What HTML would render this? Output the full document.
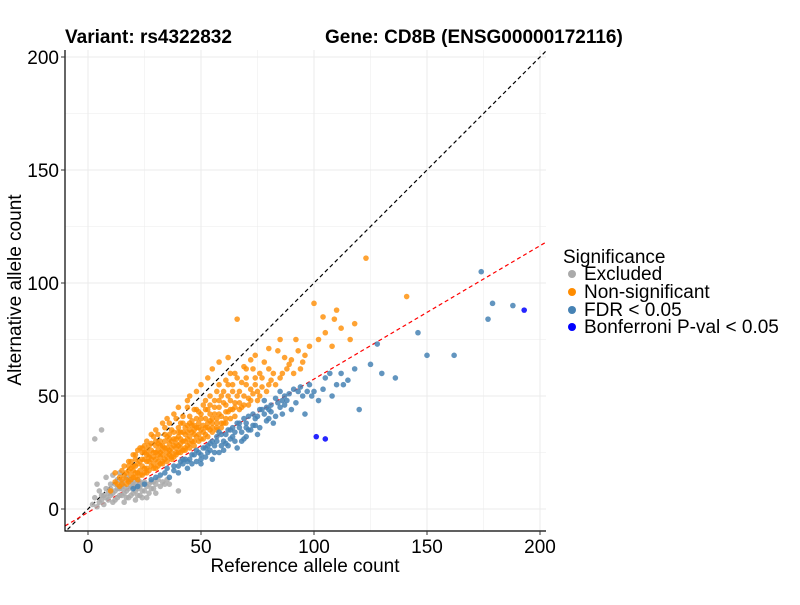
<!DOCTYPE html>
<html><head><meta charset="utf-8"><style>
body{margin:0;background:#fff;font-family:"Liberation Sans",sans-serif}
svg text{font-family:"Liberation Sans",sans-serif}
</style></head><body>
<svg id="chart" width="800" height="600" viewBox="0 0 800 600">
<rect width="800" height="600" fill="#fff"/>
<defs><clipPath id="pc"><rect x="65" y="50" width="481" height="481"/></clipPath></defs>
<g id="grid"></g>
<g id="lines" clip-path="url(#pc)"></g>
<g id="pts"></g>
<g id="axes"></g>
<text x="65" y="43" font-size="19" font-weight="bold">Variant: rs4322832</text>
<text x="325" y="43" font-size="19" font-weight="bold">Gene: CD8B (ENSG00000172116)</text>
<text x="305" y="572" font-size="19" text-anchor="middle">Reference allele count</text>
<text transform="translate(21,290) rotate(-90)" font-size="19" text-anchor="middle">Alternative allele count</text>
<g>
<text x="563" y="263" font-size="19">Significance</text>
<circle cx="572" cy="274" r="4" fill="#aaaaaa"/><text x="584" y="280" font-size="19">Excluded</text>
<circle cx="572" cy="292" r="4" fill="#ff8c00"/><text x="584" y="298" font-size="19">Non-significant</text>
<circle cx="572" cy="310" r="4" fill="#4682b4"/><text x="584" y="316" font-size="19">FDR &lt; 0.05</text>
<circle cx="572" cy="327" r="4" fill="#0000ff"/><text x="584" y="333" font-size="19">Bonferroni P-val &lt; 0.05</text>
</g>
</svg>
<script>
const xTicks=[0,50,100,150,200];
const yTicks=[0,50,100,150,200];
const excluded=[[2,2],[3,5],[4,1],[5,3],[5,8],[6,4],[7,2],[7,6],[8,9],[9,4],[10,6],[10,11],[11,3],[12,8],[13,5],[14,9],[15,6],[15,12],[16,3],[17,8],[18,5],[19,10],[20,7],[21,4],[22,9],[23,6],[24,11],[25,8],[26,5],[28,9],[30,7],[32,10],[6,35],[3,31],[8,14],[4,11],[11,15],[14,16],[18,13],[20,12],[25,12],[22,13],[9,7],[12,11],[16,10],[19,6],[23,10],[27,11],[29,12],[31,13],[17,14],[13,13],[6,6],[10,9],[21,8],[24,5],[27,7],[33,12],[35,13],[40,8],[36,11],[11,7],[13,9],[15,9],[17,5],[19,12],[21,11],[23,12],[26,10],[28,12],[30,11],[34,11],[8,5],[12,4],[14,6],[16,7],[18,9],[20,10],[22,6],[24,8],[29,9]];
const nonsig=[[12,12],[14,10],[15,13],[16,15],[18,12],[18,17],[20,14],[20,19],[21,16],[22,13],[22,20],[24,15],[24,22],[25,18],[25,25],[26,16],[27,21],[28,19],[28,26],[29,23],[30,18],[30,28],[31,21],[32,25],[32,30],[33,20],[34,27],[35,23],[35,32],[36,26],[37,22],[37,30],[38,34],[39,25],[40,28],[40,36],[41,31],[42,26],[42,38],[43,33],[44,28],[45,35],[45,41],[46,30],[47,37],[48,32],[48,44],[50,35],[50,40],[51,46],[52,33],[53,38],[54,42],[55,36],[56,48],[57,40],[58,45],[60,38],[60,52],[62,43],[63,48],[64,55],[65,41],[66,50],[68,45],[70,55],[70,62],[72,48],[74,58],[75,52],[78,65],[80,55],[82,60],[85,58],[88,62],[90,66],[95,65],[100,91],[109,84],[123,111],[141,94],[66,84],[58,65],[62,67],[55,62],[45,50],[38,42],[30,35],[26,30],[20,24],[16,19],[10,8],[12,16],[14,14],[17,11],[19,15],[23,17],[26,21],[29,20],[31,26],[33,28],[36,24],[39,31],[41,27],[44,34],[47,33],[49,38],[52,40],[53,44],[56,42],[59,50],[61,46],[67,52],[73,62],[77,58],[84,70],[92,75],[98,72],[105,78],[112,80],[116,75],[20,17],[22,16],[24,19],[26,18],[27,24],[28,22],[30,22],[30,25],[32,20],[32,23],[33,26],[34,22],[34,30],[35,27],[36,29],[37,25],[38,28],[38,23],[39,29],[40,25],[40,32],[41,34],[42,30],[43,27],[43,36],[44,31],[45,29],[46,34],[46,39],[47,30],[48,36],[49,33],[50,31],[51,37],[52,36],[54,35],[54,39],[55,40],[57,36],[58,42],[59,38],[61,40],[62,50],[64,44],[65,47],[67,44],[69,50],[71,46],[72,53],[76,50],[79,52],[18,21],[15,17],[21,22],[23,27],[27,28],[29,32],[31,33],[34,36],[36,38],[39,40],[44,45],[50,55],[53,58],[48,52],[25,28],[35,40],
[13,11],[15,11],[17,13],[19,13],[21,14],[23,15],[25,16],[27,17],[29,18],[31,19],[33,21],[35,21],[37,23],[39,24],[41,25],[43,26],[45,27],[47,28],[49,30],[51,31],[53,32],[55,34],[57,35],[59,36],[61,38],[63,40],[17,16],[19,18],[21,19],[23,21],[25,22],[27,23],[29,25],[31,24],[33,24],[35,25],[37,27],[39,27],[41,29],[43,30],[45,32],[47,35],[49,36],[51,34],[53,36],[55,38],[57,38],[59,41],[61,43],[63,44],[65,45],[67,47],[69,46],[71,49],[73,51],[75,48],[77,54],[81,57],[83,55],[86,60],[19,21],[21,24],[24,25],[26,26],[28,29],[30,30],[32,28],[34,33],[36,33],[38,31],[40,34],[42,34],[44,37],[46,37],[48,40],[50,42],[52,44],[54,46],[56,45],[58,48],[60,47],[62,55],[64,52],[66,58],[68,56],[70,58],[74,55],[76,60],[80,62],[87,67],[93,70],[102,75],[108,72],[96,68],[89,64],[91,60],[94,62],[36,31],[42,41],[47,44],[52,48],[57,52],[63,60],[69,63],[72,66],[40,45],[44,48],[33,38],[28,33],[24,27],[22,26],[18,19],[26,24],[31,29],[37,35],[41,38],[45,38],[49,43],[54,50],[58,55],[61,57],[65,60],[80,71],[85,75],[74,68],[110,88],[104,85],[118,82]];
const fdr=[[20,9],[22,10],[25,11],[28,13],[30,14],[32,15],[34,16],[35,18],[36,14],[38,17],[40,19],[40,16],[42,20],[44,18],[45,22],[46,20],[48,21],[50,24],[50,20],[52,23],[54,26],[55,22],[56,28],[58,25],[60,30],[60,26],[62,28],[64,32],[65,30],[66,27],[68,34],[70,32],[70,38],[72,35],[74,40],[75,33],[76,36],[78,42],[80,40],[82,38],[85,45],[86,42],[88,48],[90,44],[92,47],[95,50],[96,42],[98,55],[100,52],[102,48],[105,58],[108,50],[110,55],[112,60],[115,57],[120,44],[118,62],[125,64],[128,73],[130,60],[136,58],[146,78],[150,68],[162,68],[174,105],[177,84],[179,91],[188,90],[85,52],[78,48],[66,38],[58,34],[48,26],[42,22],[53,28],[57,30],[63,35],[67,36],[69,31],[73,37],[77,44],[81,46],[83,41],[87,50],[91,53],[47,24],[51,27],[55,30],[61,33],
[38,19],[41,21],[43,22],[46,24],[49,25],[52,27],[54,29],[57,32],[59,33],[62,35],[64,36],[67,38],[69,40],[71,41],[73,42],[76,44],[79,45],[81,43],[84,47],[87,46],[89,51],[93,52],[97,52],[56,25],[59,28],[63,31],[68,30],[71,35],[74,37],[79,39],[83,49],[44,21],[50,22],[53,25],[61,29],[65,34],[70,36],[75,41],[80,44],[86,48],[94,54],[99,50],[104,53],[107,60],[113,55]];
const bonf=[[101,32],[105,31],[193,88]];
const NS="http://www.w3.org/2000/svg";
const L=65,R=546,T=50,B=531;
const xs=v=>88+v*2.26, ys=v=>509-v*2.26;
function mk(t,a,p){const e=document.createElementNS(NS,t);for(const k in a)e.setAttribute(k,a[k]);p.appendChild(e);return e;}
const grid=document.getElementById('grid'),axes=document.getElementById('axes'),lines=document.getElementById('lines'),pts=document.getElementById('pts');
for(let v=0;v<=200;v+=25){
 const w=v%50===0?1:0.5;
 const gx=mk('line',{x1:xs(v),x2:xs(v),y1:T,y2:B,stroke:'#ebebeb','stroke-width':w},grid);
 
 
 const gy=mk('line',{x1:L,x2:R,y1:ys(v),y2:ys(v),stroke:'#ebebeb','stroke-width':w},grid);
 
 
}
const d1=mk('line',{x1:xs(-20),y1:ys(-20),x2:xs(210),y2:ys(210),stroke:'#000','stroke-width':1.2,'stroke-dasharray':'4,3'},lines);


const slope=0.59,icpt=-1.5;
const d2=mk('line',{x1:L,y1:ys(slope*((L-88)/2.26)+icpt),x2:R,y2:ys(slope*((R-88)/2.26)+icpt),stroke:'#ff0000','stroke-width':1.2,'stroke-dasharray':'4,3'},lines);


function draw(arr,col,name,op){for(const p of arr){const c=mk('circle',{cx:xs(p[0]),cy:ys(p[1]),r:2.8,fill:col,'fill-opacity':op},pts);
 
 }}
draw(excluded,'#aaaaaa','excluded-point',0.85);
draw(nonsig,'#ff8c00','nonsignificant-point',0.8);
draw(fdr,'#4682b4','fdr-point',0.85);
draw(bonf,'#0000ff','bonferroni-point',0.85);
const ax=mk('path',{d:`M${L},${T}V${B}H${R}`,stroke:'#000',fill:'none','stroke-width':1.2},axes);


for(const v of xTicks){mk('line',{x1:xs(v),x2:xs(v),y1:B,y2:B+4,stroke:'#333'},axes);
 const t=mk('text',{x:xs(v),y:553,'font-size':19,'text-anchor':'middle',fill:'#000'},axes);t.textContent=v;
 
 }
for(const v of yTicks){mk('line',{x1:L-4,x2:L,y1:ys(v),y2:ys(v),stroke:'#333'},axes);
 const t=mk('text',{x:L-6,y:ys(v)+7,'font-size':19,'text-anchor':'end',fill:'#000'},axes);t.textContent=v;
 
 }
</script>
</body></html>
